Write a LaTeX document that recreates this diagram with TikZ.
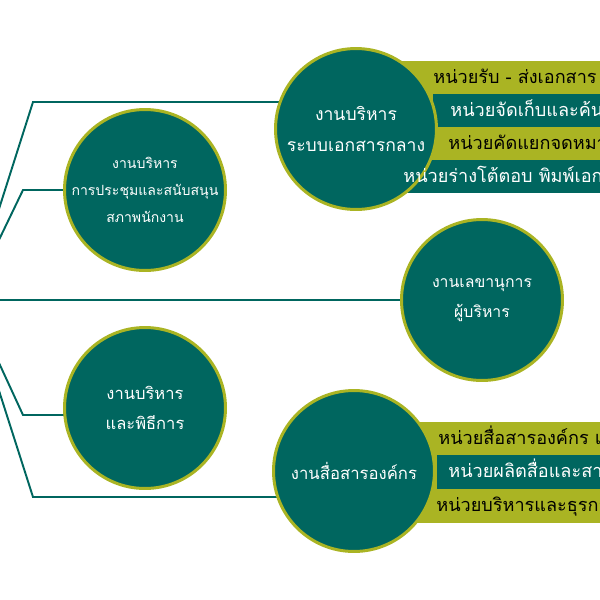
\documentclass[tikz,border=0pt]{standalone}
\usepackage{fontspec}
\setmainfont[Script=Thai]{Loma}
\usetikzlibrary{backgrounds}
\definecolor{orgteal}{HTML}{00665F}
\definecolor{orgolive}{HTML}{AAB423}
\begin{document}
\begin{tikzpicture}[
x=0.02cm, y=-0.02cm,
unit/.style={circle, fill=orgteal, draw=orgolive, line width=1.7pt, minimum size=3.22cm, inner sep=0pt},
unittext/.style={text=white, align=center, inner sep=0pt},
link/.style={draw=orgteal, line width=1.1pt},
darkrow/.style={anchor=base west, text=white, inner sep=0pt, font=\fontsize{10.3}{12}\selectfont},
lightrow/.style={anchor=base west, text=black, inner sep=0pt, font=\fontsize{10.3}{12}\selectfont}]
\useasboundingbox (0,0) rectangle (600,600);
\clip (0,0) rectangle (600,600);
\node[unit] (central) at (356,129) {};
\node[unit] (meeting) at (145,190) {};
\node[unit] (secretary) at (482,300) {};
\node[unit] (ceremony) at (145,408) {};
\node[unit] (comm) at (354,471) {};
\node[unittext, font=\fontsize{10}{18}\selectfont] (central-text) at (central) {งานบริหาร\\ระบบเอกสารกลาง};
\node[unittext, font=\fontsize{8}{15.3}\selectfont] (meeting-text) at (meeting) {งานบริหาร\\การประชุมและสนับสนุน\\สภาพนักงาน};
\node[unittext, font=\fontsize{9}{17}\selectfont] (secretary-text) at (secretary) {งานเลขานุการ\\ผู้บริหาร};
\node[unittext, font=\fontsize{9.4}{17}\selectfont] (ceremony-text) at (ceremony) {งานบริหาร\\และพิธีการ};
\node[unittext, font=\fontsize{9.5}{17}\selectfont] (comm-text) at (comm) {งานสื่อสารองค์กร};
\coordinate (root) at (-30,300);
\coordinate (bend1) at (33,102);
\coordinate (bend2) at (23,190);
\coordinate (bend4) at (23,415);
\coordinate (bend5) at (33,497);
\begin{scope}[on background layer]
% rows behind the circles
\fill[orgolive] (400,61) rectangle (610,160);
\fill[orgteal] (433,94) rectangle (610,127);
\fill[orgteal] (403,160) rectangle (610,193);
\fill[orgolive] (400,422) rectangle (610,523);
\fill[orgteal] (437,455) rectangle (610,489);
\draw[link] (root) -- (bend1) -- (bend1 -| central);
\draw[link] (root) -- (bend2) -- (meeting);
\draw[link] (root) -- (secretary);
\draw[link] (root) -- (bend4) -- (bend4 -| ceremony);
\draw[link] (root) -- (bend5) -- (bend5 -| comm);
\end{scope}
\node[lightrow] (send) at (433,83) {หน่วยรับ - ส่งเอกสาร};
\node[darkrow] (store) at (450,116) {หน่วยจัดเก็บและค้นหาเอกสาร};
\node[lightrow] (sort) at (448,149) {หน่วยคัดแยกจดหมาย};
\node[darkrow] (draft) at (403,182) {หน่วยร่างโต้ตอบ พิมพ์เอกสาร};
\node[lightrow] (pr) at (438,444) {หน่วยสื่อสารองค์กร และประชาสัมพันธ์};
\node[darkrow] (media) at (448,477) {หน่วยผลิตสื่อและสารสนเทศ};
\node[lightrow] (admin) at (436,511) {หน่วยบริหารและธุรการ};
%\draw[link] (root) -- (comm);
\end{tikzpicture}
\end{document}
